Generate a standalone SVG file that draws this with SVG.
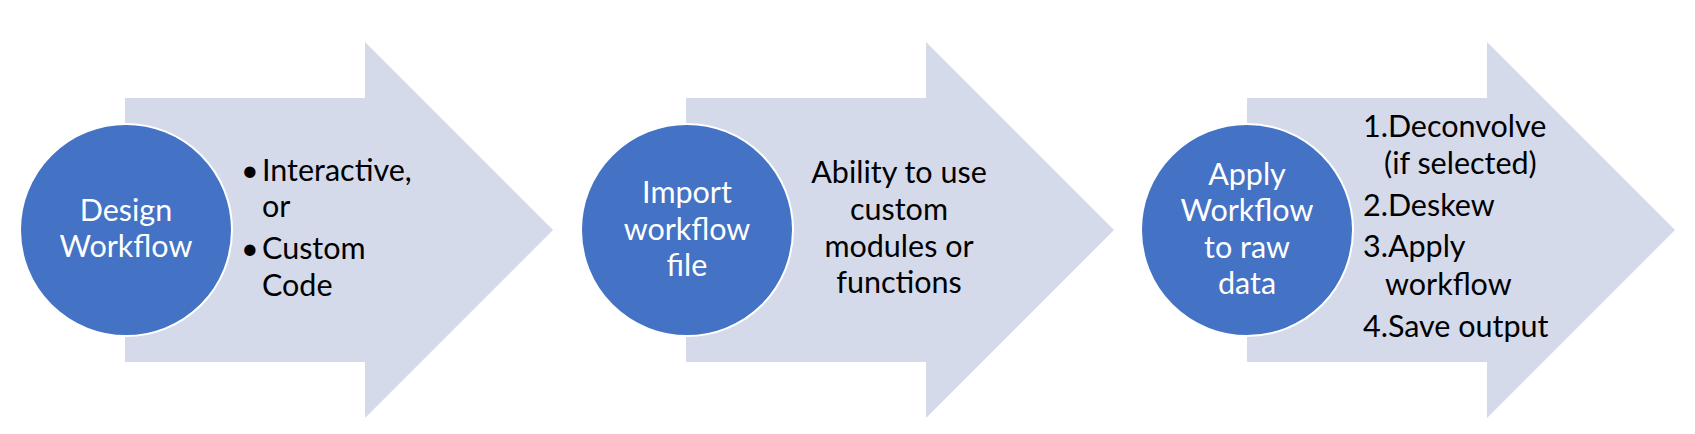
<svg xmlns="http://www.w3.org/2000/svg" width="1695" height="434" viewBox="0 0 1695 434">
<style>
.arrow{fill:#D5DAEB;}
.circ{fill:#4472C4;stroke:#FFFFFF;stroke-width:2;}
.ct{font-family:Lato,"Liberation Sans",sans-serif;font-size:30.5px;fill:#FFFFFF;text-anchor:middle;}
.bt{font-family:Lato,"Liberation Sans",sans-serif;font-size:30.5px;fill:#000000;}
.mid{text-anchor:middle;}
</style>
<rect width="1695" height="434" fill="#FFFFFF"/>
<g id="connectors">
<polygon class="arrow" points="125,98 365,98 365,42 553,230 365,418 365,362 125,362"/>
<polygon class="arrow" points="686,98 926,98 926,42 1114,230 926,418 926,362 686,362"/>
<polygon class="arrow" points="1247,98 1487,98 1487,42 1675,230 1487,418 1487,362 1247,362"/>
</g>
<g id="node1">
<circle class="circ" cx="126" cy="230" r="106"/>
<text class="ct" x="126" y="221">Design</text>
<text class="ct" x="126" y="257">Workflow</text>
</g>
<g id="detail1">
<text class="bt" x="241" y="181">•</text>
<text class="bt" x="262" y="181">Interactive,</text>
<text class="bt" x="262" y="217">or</text>
<text class="bt" x="241" y="259">•</text>
<text class="bt" x="262" y="259">Custom</text>
<text class="bt" x="262" y="296">Code</text>
</g>
<g id="node2">
<circle class="circ" cx="687" cy="230" r="106"/>
<text class="ct" x="687" y="203">Import</text>
<text class="ct" x="687" y="240">workflow</text>
<text class="ct" x="687" y="276">file</text>
</g>
<g id="detail2">
<text class="bt mid" x="899" y="183">Ability to use</text>
<text class="bt mid" x="899" y="220">custom</text>
<text class="bt mid" x="899" y="257">modules or</text>
<text class="bt mid" x="899" y="293">functions</text>
</g>
<g id="node3">
<circle class="circ" cx="1247" cy="230" r="106"/>
<text class="ct" x="1247" y="185">Apply</text>
<text class="ct" x="1247" y="221">Workflow</text>
<text class="ct" x="1247" y="258">to raw</text>
<text class="ct" x="1247" y="294">data</text>
</g>
<g id="detail3">
<text class="bt" x="1363" y="137">1.Deconvolve</text>
<text class="bt" x="1384" y="174">(if selected)</text>
<text class="bt" x="1363" y="216">2.Deskew</text>
<text class="bt" x="1363" y="257">3.Apply</text>
<text class="bt" x="1385" y="295">workflow</text>
<text class="bt" x="1363" y="337">4.Save output</text>
</g>
</svg>
